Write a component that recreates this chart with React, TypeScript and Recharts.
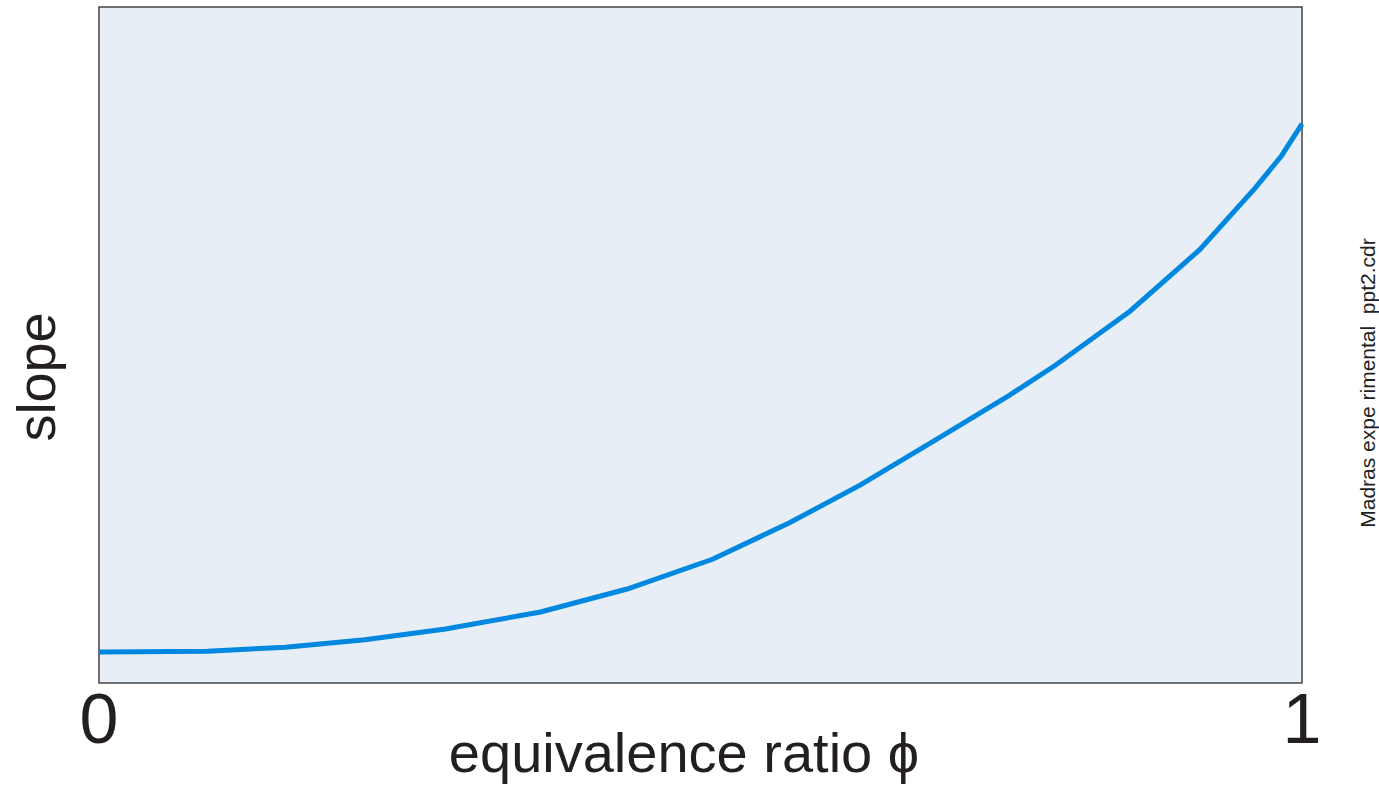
import { LineChart, Line, XAxis, YAxis, ReferenceArea, Label } from 'recharts';

const phi = [0, 0.09, 0.155, 0.221, 0.288, 0.367, 0.439, 0.51, 0.574, 0.633, 0.691, 0.757, 0.795, 0.857, 0.915, 0.961, 0.983, 1];
const slope = [4.6, 4.7, 5.3, 6.4, 8.0, 10.5, 13.9, 18.3, 23.7, 29.3, 35.5, 42.6, 47.0, 55.0, 64.1, 73.2, 78.0, 82.7];
const xTicks = [0, 1];

const data = phi.map((p, i) => ({ phi: p, slope: slope[i] }));

const font = '"Liberation Sans", Arial, sans-serif';
const ink = '#231f20';

// rotated text placed at a fixed spot on the page
const VText = ({ x, y, size, text }: { x: number; y: number; size: number; text: string }) => (
  <text
    x={x}
    y={y}
    transform={`rotate(-90 ${x} ${y})`}
    textAnchor="middle"
    fontSize={size}
    fontFamily={font}
    fill={ink}
    style={{ whiteSpace: 'pre' }}
  >
    {text}
  </text>
);

export default function App() {
  return (
    <div style={{ position: 'absolute', left: 0, top: 0, width: 1379, height: 788, background: '#fff' }}>
      <LineChart width={1379} height={788} data={data} margin={{ top: 7, right: 0, bottom: 0, left: 0 }}>
        <XAxis
          type="number"
          dataKey="phi"
          domain={[0, 1]}
          ticks={xTicks}
          height={105}
          axisLine={false}
          tickLine={false}
          tick={{ fontSize: 70, fill: ink, fontFamily: font, dy: 2 }}
        >
          <Label
            content={() => (
              <text x={684} y={772} textAnchor="middle" fontSize={56} fontFamily={font} fill={ink}>
                equivalence ratio ϕ
              </text>
            )}
          />
        </XAxis>
        <YAxis type="number" domain={[0, 100]} width={99} tick={false} axisLine={false} tickLine={false}>
          <Label content={() => <VText x={55} y={377} size={54} text="slope" />} />
        </YAxis>
        <YAxis yAxisId="r" orientation="right" width={77} tick={false} axisLine={false} tickLine={false}>
          <Label content={() => <VText x={1375} y={383} size={21} text="Madras expe rimental  ppt2.cdr" />} />
        </YAxis>
        <ReferenceArea x1={0} x2={1} y1={0} y2={100} fill="#e7eef6" fillOpacity={1} stroke="#444" strokeWidth={1.5} />
        <Line
          type="linear"
          dataKey="slope"
          stroke="#0088e0"
          strokeWidth={5}
          dot={false}
          isAnimationActive={false}
        />
      </LineChart>
    </div>
  );
}
